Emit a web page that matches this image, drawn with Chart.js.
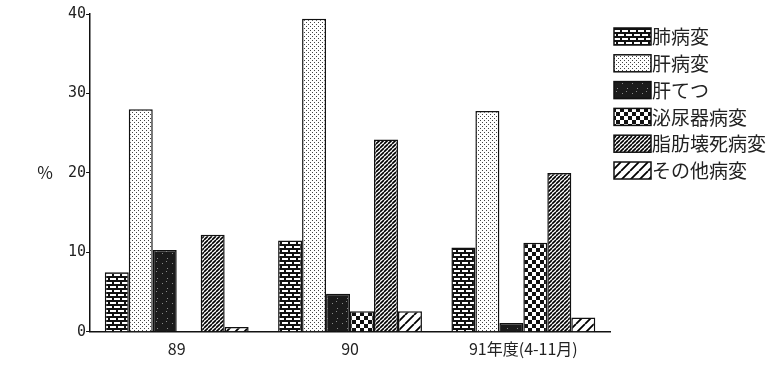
<!DOCTYPE html>
<html lang="ja">
<head>
  <meta charset="UTF-8">
  <title>病変の割合</title>
  <script src="https://cdn.jsdelivr.net/npm/chart.js"></script>
  <style>
    html, body { margin: 0; padding: 0; background: #fff; }
    #wrap { width: 771px; height: 365px; }
  </style>
</head>
<body>
  <div id="wrap"><canvas id="chart" width="771" height="365"></canvas></div>
  <script>
    // data
    const categories = ['89', '90', '91年度(4-11月)'];
    const seriesNames = ['肺病変', '肝病変', '肝てつ', '泌尿器病変', '脂肪壊死病変', 'その他病変'];
    const lungValues = [7.5, 11.5, 10.6];
    const liverValues = [28, 39.4, 27.8];
    const liverIronValues = [10.3, 4.8, 1.1];
    const urinaryValues = [null, 2.6, 11.2];
    const fatNecrosisValues = [12.2, 24.2, 20];
    const otherValues = [0.6, 2.6, 1.8];
    const yTicks = [0, 10, 20, 30, 40];

    const JP = '"Noto Sans CJK JP", "Noto Sans", sans-serif';
    const MONO = '"DejaVu Sans Mono", "Liberation Mono", monospace';

    function makePattern(w, h, draw) {
      const c = document.createElement('canvas');
      c.width = w; c.height = h;
      const g = c.getContext('2d');
      g.fillStyle = '#fff';
      g.fillRect(0, 0, w, h);
      draw(g);
      return c.getContext('2d').createPattern(c, 'repeat');
    }

    const brick = makePattern(8, 8, g => {
      g.fillStyle = '#111';
      g.fillRect(0, 0, 8, 2);
      g.fillRect(0, 4, 8, 2);
      g.fillRect(0, 0, 2, 4);
      g.fillRect(4, 4, 2, 4);
    });
    const dots = makePattern(4, 4, g => {
      g.fillStyle = '#444';
      g.fillRect(0, 0, 1, 1);
      g.fillRect(2, 2, 1, 1);
    });
    const dark = makePattern(10, 10, g => {
      g.fillStyle = '#1b1b1b';
      g.fillRect(0, 0, 10, 10);
      g.fillStyle = '#888';
      g.fillRect(2, 3, 1, 1);
      g.fillRect(7, 8, 1, 1);
      g.fillRect(6, 1, 1, 1);
    });
    const checker = makePattern(8, 8, g => {
      g.fillStyle = '#111';
      g.fillRect(0, 0, 4, 4);
      g.fillRect(4, 4, 4, 4);
    });
    function hatch(size, width) {
      return makePattern(size, size, g => {
        g.strokeStyle = '#000';
        g.lineWidth = width;
        g.beginPath();
        for (let k = -1; k <= 1; k++) {
          g.moveTo(k * size, size);
          g.lineTo(k * size + size, 0);
        }
        g.stroke();
      });
    }
    const denseHatch = hatch(4, 1.6);
    const sparseHatch = hatch(9, 1.8);

    const fills = [brick, dots, dark, checker, denseHatch, sparseHatch];
    const seriesValues = [lungValues, liverValues, liverIronValues, urinaryValues, fatNecrosisValues, otherValues];

    const datasets = seriesNames.map((name, i) => ({
      label: name,
      data: seriesValues[i],
      backgroundColor: fills[i],
      borderColor: '#111',
      borderWidth: 1.5,
      barPercentage: 1,
      categoryPercentage: 0.83
    }));

    const sideLabels = {
      id: 'sideLabels',
      afterDraw(chart) {
        const ctx = chart.ctx;
        const area = chart.chartArea;
        ctx.save();
        // y unit
        ctx.fillStyle = '#222';
        ctx.font = '17px ' + JP;
        ctx.textAlign = 'center';
        ctx.textBaseline = 'middle';
        ctx.fillText('%', area.left - 45, (area.top + area.bottom) / 2);
        // legend
        const x0 = 614, y0 = 28, step = 26.8;
        chart.data.datasets.forEach((ds, i) => {
          const y = y0 + i * step;
          ctx.fillStyle = ds.backgroundColor;
          ctx.fillRect(x0, y, 37, 17);
          ctx.strokeStyle = '#111';
          ctx.lineWidth = 1.5;
          ctx.strokeRect(x0, y, 37, 17);
          ctx.fillStyle = '#222';
          ctx.font = '19px ' + JP;
          ctx.textAlign = 'left';
          ctx.textBaseline = 'middle';
          ctx.fillText(ds.label, x0 + 38, y + 9);
        });
        ctx.restore();
      }
    };

    new Chart(document.getElementById('chart'), {
      type: 'bar',
      data: { labels: categories, datasets: datasets },
      options: {
        responsive: false,
        animation: false,
        layout: { padding: { left: 68, right: 161, top: 14, bottom: 6 } },
        plugins: {
          legend: { display: false },
          tooltip: { enabled: false }
        },
        scales: {
          x: {
            grid: { display: false },
            border: { display: true, color: '#111', width: 1.5 },
            ticks: { color: '#222', font: { family: JP, size: 16 }, padding: 0 }
          },
          y: {
            min: 0,
            max: 40,
            afterBuildTicks: axis => { axis.ticks = yTicks.map(v => ({ value: v })); },
            grid: { drawOnChartArea: false, drawTicks: true, tickLength: 4, color: '#111' },
            border: { display: true, color: '#111', width: 1.5 },
            ticks: { color: '#222', font: { family: MONO, size: 15 }, padding: 0 }
          }
        }
      },
      plugins: [sideLabels]
    });
  </script>
</body>
</html>
